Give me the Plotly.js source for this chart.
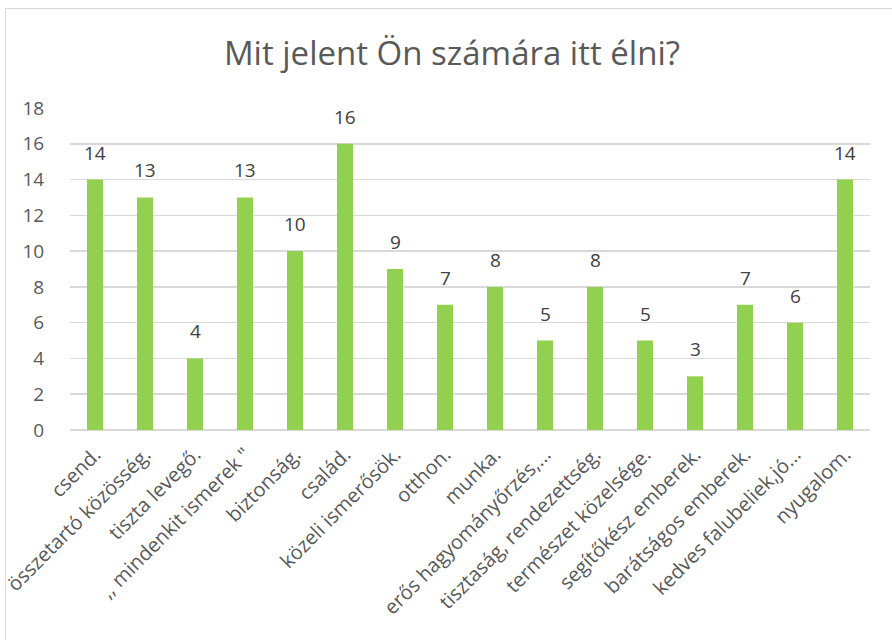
<!DOCTYPE html>
<html>
<head>
<meta charset="utf-8">
<script src="https://cdn.plot.ly/plotly-3.0.1.min.js"></script>
<style>
html,body{margin:0;padding:0;background:#fff;}
#frame{position:absolute;left:5px;top:8px;width:900px;height:700px;border-left:1.5px solid #d9d9d9;border-top:1.5px solid #d9d9d9;pointer-events:none;}
#chart{position:absolute;left:0;top:0;width:892px;height:640px;}
</style>
</head>
<body>
<div id="chart"></div>
<div id="frame"></div>
<script>
const categories = [
  "csend.",
  "összetartó közösség.",
  "tiszta levegő.",
  ",, mindenkit ismerek \"",
  "biztonság.",
  "család.",
  "közeli ismerősök.",
  "otthon.",
  "munka.",
  "erős hagyományőrzés,...",
  "tisztaság, rendezettség.",
  "természet közelsége.",
  "segítőkész emberek.",
  "barátságos emberek.",
  "kedves falubeliek,jó...",
  "nyugalom."
];
const values = [14, 13, 4, 13, 10, 16, 9, 7, 8, 5, 8, 5, 3, 7, 6, 14];
const yTicks = [0, 2, 4, 6, 8, 10, 12, 14, 16, 18];

const trace = {
  type: 'bar',
  x: categories,
  y: values,
  marker: {color: '#92D050'},
  hoverinfo: 'x+y'
};

const annotations = categories.map((c, i) => ({
  x: c, y: values[i], xref: 'x', yref: 'y',
  text: String(values[i]), showarrow: false,
  yanchor: 'bottom', yshift: 12,
  font: {family: 'Open Sans, sans-serif', size: 19, color: '#404040'}
}));

const layout = {
  width: 892, height: 640,
  margin: {l: 70, r: 22, t: 108, b: 210},
  paper_bgcolor: 'rgba(0,0,0,0)',
  plot_bgcolor: 'rgba(0,0,0,0)',
  title: {
    text: 'Mit jelent Ön számára itt élni?',
    x: 0.5067, xanchor: 'center', y: 0.917, yanchor: 'middle',
    font: {family: 'Open Sans, sans-serif', size: 33, color: '#595959'}
  },
  bargap: 0.68,
  showlegend: false,
  xaxis: {
    type: 'category',
    tickangle: -45,
    tickfont: {family: 'Open Sans, sans-serif', size: 20, color: '#595959'},
    showgrid: false,
    showline: false,
    ticks: '',
    ticklabelstandoff: 8,
    automargin: false
  },
  yaxis: {
    range: [0, 18],
    tickvals: yTicks,
    ticktext: yTicks.map(String),
    tickfont: {family: 'Open Sans, sans-serif', size: 19, color: '#595959'},
    gridcolor: '#d9d9d9', gridwidth: 1.5,
    zeroline: true, zerolinecolor: '#d9d9d9', zerolinewidth: 1.5,
    showline: false,
    ticks: 'outside', ticklen: 21, tickcolor: 'rgba(0,0,0,0)',
    automargin: false
  },
  annotations: annotations
};

Plotly.newPlot('chart', [trace], layout, {displayModeBar: false, staticPlot: true});
</script>
</body>
</html>
